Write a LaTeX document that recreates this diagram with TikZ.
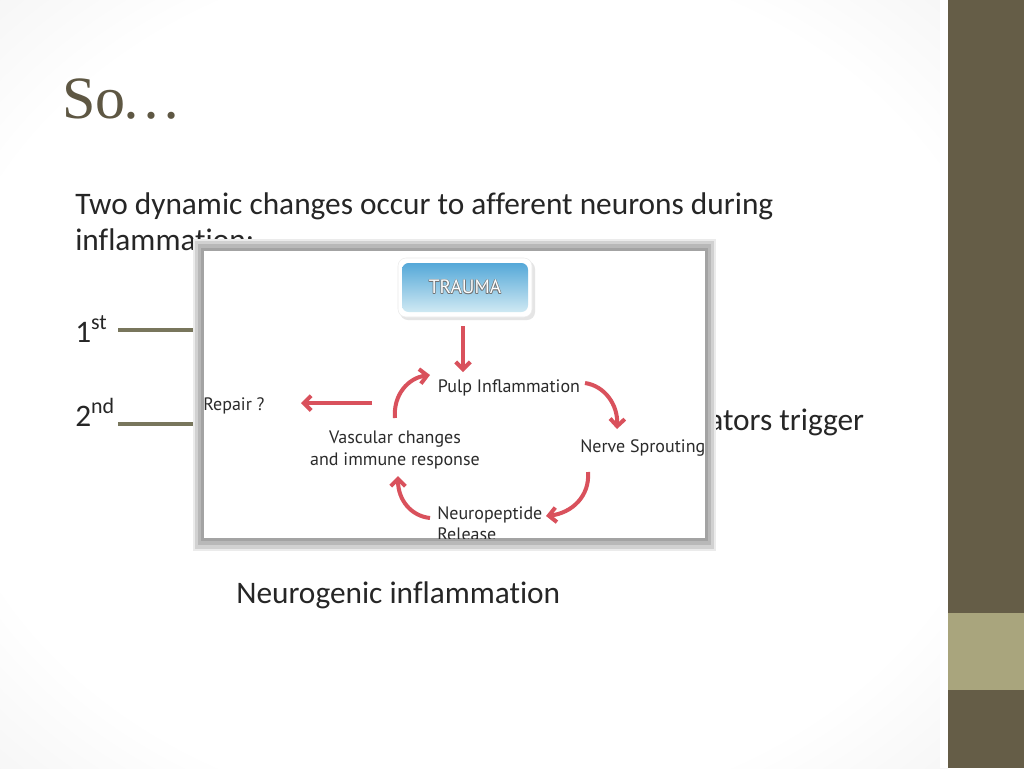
\documentclass[tikz,border=0pt]{standalone}
\usepackage{fontspec}
\setmainfont{Carlito}[Ligatures=NoCommon]
\newfontfamily\titlefont{Liberation Serif}
\newfontfamily\figfont{PT Sans}
\usepackage{tikz}
\usetikzlibrary{
  arrows.meta,
  positioning,
  calc,
}
\definecolor{slideolive}{HTML}{655D47}
\definecolor{slidesand}{HTML}{A9A57D}
\definecolor{slidetitle}{HTML}{5E5743}
\definecolor{slidetext}{HTML}{262626}
\definecolor{slidearrow}{HTML}{78765C}
\definecolor{figred}{HTML}{D9515C}
\definecolor{figblue}{HTML}{55A8D8}
\definecolor{figpale}{HTML}{CFE9F3}
\definecolor{figtext}{HTML}{2B2B2B}
\pgfdeclareradialshading{vignette}{\pgfpoint{0bp}{0bp}}{%
  color(0bp)=(white); color(28bp)=(white); color(50bp)=(black!10); color(72bp)=(black!14)}

\begin{document}
\begin{tikzpicture}[
  x=0.75pt, y=-0.75pt,
  bodytext/.style={
    font=\fontsize{23.5}{28}\selectfont, text=slidetext,
    inner sep=0pt, anchor=base west,
  },
  figlabel/.style={
    font=\figfont\fontsize{13.5}{16}\selectfont, text=figtext,
    inner sep=0pt, align=center,
  },
  cycle/.style={
    -{Straight Barb[length=5.5pt,width=11pt]}, line width=3pt, color=figred,
  },
  pointer/.style={
    -{Triangle[length=6pt,width=8pt]}, line width=3.6pt, color=slidearrow,
  },
]
  \useasboundingbox (0,0) rectangle (1024,768);

  % --- slide background ---
  \shade[shading=vignette] (0,0) rectangle (948,768);
  \fill[white] (940,0) rectangle (948,768);
  \fill[slideolive] (948,0) rectangle (1024,768);
  \fill[slidesand] (948,613) rectangle (1024,690);

  % --- title and body ---
  \node[font=\titlefont\fontsize{45}{50}\selectfont, text=slidetitle,
        inner sep=0pt, anchor=base west] (title) at (62,118) {So\kern-3pt…};
  \node[bodytext] (line-a) at (75,214) {Two dynamic changes occur to afferent neurons during};
  \node[bodytext] (line-b) at (75,250) {inflammation:};
  \node[bodytext] (first)  at (75,342) {1\textsuperscript{st}};
  \node[bodytext] (second) at (75,426) {2\textsuperscript{nd}};
  \node[bodytext] (trigger) at (708,430) {ators trigger};
  \node[bodytext] (neuro)  at (236,603) {Neurogenic inflammation};

  \coordinate (first-end)  at (214,330);
  \coordinate (second-end) at (214,424);
  \draw[pointer] (118,330) -- (first-end);
  \draw[pointer] (118,424) -- (second-end);

  % --- picture frame ---
  \fill[black!8]  (193,239) rectangle (716,551);
  \fill[black!18] (195,241) rectangle (714,549);
  \fill[black!28] (198,244) rectangle (711,545);
  \fill[black!36] (201,248) rectangle (708,541);
  \fill[white] (204,251) rectangle (705,538);

  \begin{scope}
    \clip (204,251) rectangle (705,538);

    % --- trauma box ---
    \fill[black!10, rounded corners=6pt] (400,261) rectangle (535,320);
    \fill[white, draw=black!8, rounded corners=6pt] (398,258) rectangle (532,317);
    \shade[top color=figblue, bottom color=figpale, rounded corners=5pt]
      (402,263) rectangle (528,312);
    \foreach \dx/\dy in {0.6/0.6, -0.6/-0.6, 0.6/-0.6, -0.6/0.6}
      \node[font=\figfont\fontsize{14.5}{16}\selectfont, text=black!55, inner sep=0pt]
        at (465+\dx,287+\dy) {TRAUMA};
    \node[font=\figfont\fontsize{14.5}{16}\selectfont, text=white!92!figpale, inner sep=0pt]
      (trauma) at (465,287) {TRAUMA};

    % --- cycle labels ---
    \node[figlabel, anchor=base] (pulp)    at (509,392) {Pulp Inflammation};
    \node[figlabel, anchor=base west] (nerve) at (580,452) {Nerve Sprouting};
    \node[figlabel, anchor=base west] (peptide) at (437,519) {Neuropeptide};
    \node[figlabel, anchor=base west] (release) at (437,540) {Release};
    \node[figlabel] (vascular) at (395,450) {Vascular changes\\and immune response};
    \node[figlabel, anchor=base west] (repair) at (203,410) {Repair ?};

    % --- cycle arrows ---
    \coordinate (trauma-out) at (463,326);
    \coordinate (pulp-in)    at (463,372);
    \coordinate (pulp-out)   at (585,383);
    \coordinate (nerve-in)   at (617,429);
    \coordinate (nerve-out)  at (588,472);
    \coordinate (peptide-in) at (546,516);
    \coordinate (peptide-out) at (430,518);
    \coordinate (vascular-in) at (398,476);
    \coordinate (vascular-out) at (395,418);
    \coordinate (pulp-back)  at (430,375);
    \coordinate (repair-out) at (372,403);
    \coordinate (repair-in)  at (301,403);

    \draw[cycle] (trauma-out) -- (pulp-in);
    \draw[cycle] (pulp-out) .. controls (605,386) and (618,405) .. (nerve-in);
    \draw[cycle] (nerve-out) .. controls (590,496) and (572,513) .. (peptide-in);
    \draw[cycle] (peptide-out) .. controls (411,516) and (398,500) .. (vascular-in);
    \draw[cycle] (vascular-out) .. controls (393,395) and (408,378) .. (pulp-back);
    \draw[cycle] (repair-out) -- (repair-in);
  \end{scope}
\end{tikzpicture}
\end{document}
